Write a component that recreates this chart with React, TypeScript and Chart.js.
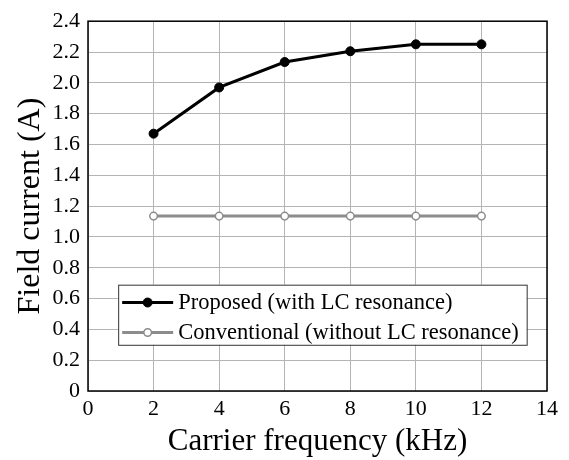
import React, { useEffect, useRef } from "react";
import { Chart, registerables } from "chart.js";

Chart.register(...registerables);

// Carrier frequency in kHz
const frequencies = [2, 4, 6, 8, 10, 12];
// Field current (A) with LC resonance
const proposedCurrent = [1.67, 1.97, 2.135, 2.205, 2.25, 2.25];
// Field current (A) without LC resonance
const conventionalCurrent = [1.135, 1.135, 1.135, 1.135, 1.135, 1.135];

const seriesLabels = [
  "Proposed (with LC resonance)",
  "Conventional (without LC resonance)",
];

const xTitle = "Carrier frequency (kHz)";
const yTitle = "Field current (A)";

const FONT = "'Liberation Serif', 'Times New Roman', serif";

// Frame around the plotting area plus the in-plot legend box
const framePlugin = {
  id: "frameAndLegend",
  afterDraw(chart: any) {
    const { ctx, chartArea, scales } = chart;
    ctx.save();
    ctx.strokeStyle = "#000";
    ctx.lineWidth = 1.5;
    ctx.strokeRect(chartArea.left, chartArea.top, chartArea.right - chartArea.left, chartArea.bottom - chartArea.top);

    // legend box anchored in data space
    const x0 = scales.x.getPixelForValue(0.92);
    const x1 = scales.x.getPixelForValue(13.38);
    const y0 = scales.y.getPixelForValue(0.69);
    const y1 = scales.y.getPixelForValue(0.3);
    ctx.fillStyle = "#fff";
    ctx.fillRect(x0, y0, x1 - x0, y1 - y0);
    ctx.strokeStyle = "#333";
    ctx.lineWidth = 1;
    ctx.strokeRect(x0 + 0.5, y0 + 0.5, x1 - x0, y1 - y0);

    const h = y1 - y0;
    const rows = [0.28, 0.78];
    chart.data.datasets.forEach((ds: any, i: number) => {
      const cy = Math.round(y0 + h * rows[i]) + 0.5;
      const lx0 = x0 + 4;
      const lx1 = x0 + 55;
      ctx.strokeStyle = ds.borderColor;
      ctx.lineWidth = ds.borderWidth;
      ctx.beginPath();
      ctx.moveTo(lx0, cy);
      ctx.lineTo(lx1, cy);
      ctx.stroke();
      ctx.beginPath();
      ctx.arc((lx0 + lx1) / 2, cy, ds.pointRadius, 0, Math.PI * 2);
      ctx.fillStyle = ds.pointBackgroundColor;
      ctx.fill();
      ctx.lineWidth = ds.pointBorderWidth;
      ctx.strokeStyle = ds.pointBorderColor;
      ctx.stroke();
      ctx.fillStyle = "#000";
      ctx.font = `22.5px ${FONT}`;
      ctx.textBaseline = "middle";
      ctx.textAlign = "left";
      ctx.fillText(ds.label, lx1 + 5, cy + 1);
    });
    ctx.restore();
  },
};

export default function App() {
  const ref = useRef<HTMLCanvasElement>(null);

  useEffect(() => {
    if (!ref.current) return;
    const chart = new Chart(ref.current, {
      type: "line",
      data: {
        datasets: [
          {
            label: seriesLabels[0],
            data: frequencies.map((f, i) => ({ x: f, y: proposedCurrent[i] })),
            borderColor: "#000",
            borderWidth: 3,
            pointRadius: 4.5,
            pointBackgroundColor: "#000",
            pointBorderColor: "#000",
            pointBorderWidth: 1,
            tension: 0,
          },
          {
            label: seriesLabels[1],
            data: frequencies.map((f, i) => ({ x: f, y: conventionalCurrent[i] })),
            borderColor: "#8c8c8c",
            borderWidth: 3,
            pointRadius: 3.8,
            pointBackgroundColor: "#fff",
            pointBorderColor: "#8c8c8c",
            pointBorderWidth: 1.5,
            tension: 0,
          },
        ],
      },
      options: {
        animation: false,
        responsive: false,
        layout: { padding: { left: 0, top: 16, right: 22, bottom: 0 } },
        plugins: { legend: { display: false }, tooltip: { enabled: false } },
        scales: {
          x: {
            type: "linear",
            min: 0,
            max: 14,
            ticks: { stepSize: 2, color: "#000", font: { family: FONT, size: 22 }, padding: 5 },
            grid: { color: "#b4b4b4", lineWidth: 1, drawTicks: false },
            border: { display: false },
            title: { display: true, text: xTitle, color: "#000", font: { family: FONT, size: 31 }, padding: { top: 1, bottom: 0 } },
            afterFit(scale: any) {
              scale.height = 69;
            },
          },
          y: {
            min: 0,
            max: 2.4,
            ticks: {
              stepSize: 0.2,
              color: "#000",
              font: { family: FONT, size: 22 },
              padding: 8,
              callback: (v: any) => (Number(v) === 0 ? "0" : Number(v).toFixed(1)),
            },
            grid: { color: "#b4b4b4", lineWidth: 1, drawTicks: false },
            border: { display: false },
            title: { display: true, text: yTitle, color: "#000", font: { family: FONT, size: 32 }, padding: { top: 11, bottom: 0 } },
            afterFit(scale: any) {
              scale.width = 88;
            },
          },
        },
      },
      plugins: [framePlugin],
    } as any);
    return () => chart.destroy();
  }, []);

  return (
    <div style={{ position: "fixed", left: 0, top: 0, width: 569, height: 460, background: "#fff" }}>
      <canvas ref={ref} width={569} height={460} />
    </div>
  );
}
